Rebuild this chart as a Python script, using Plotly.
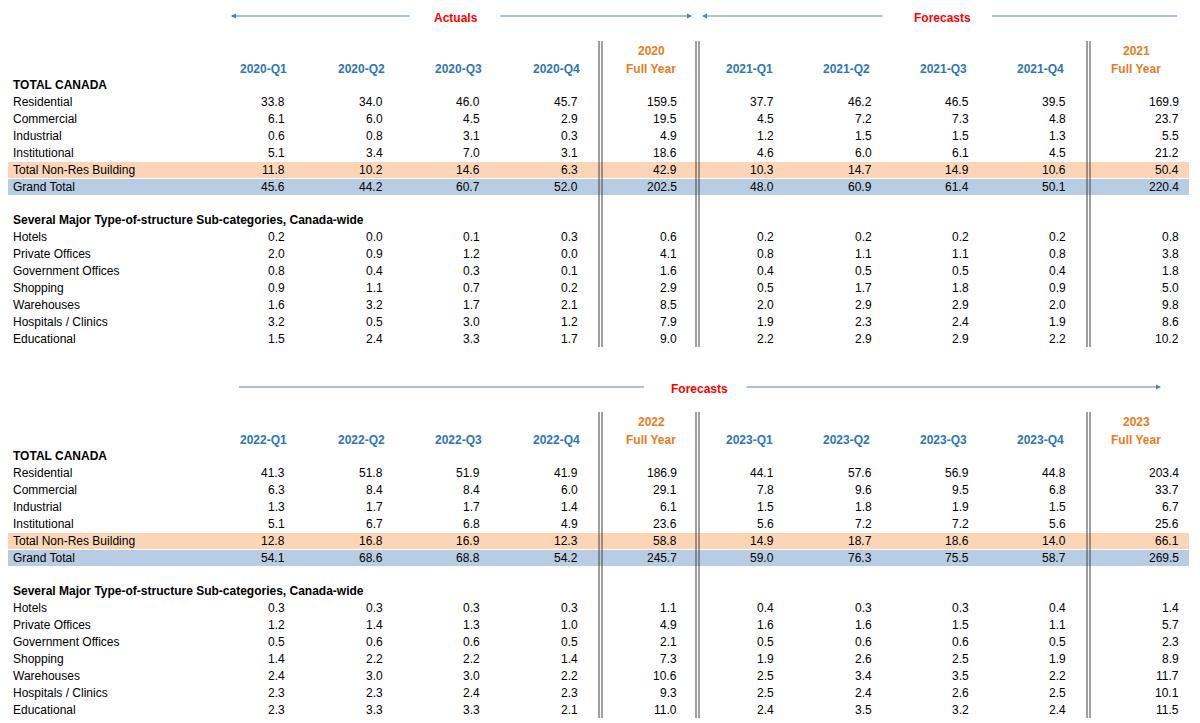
import plotly.graph_objects as go

# ---- data ----
rowLabels = ["Residential", "Commercial", "Industrial", "Institutional",
             "Total Non-Res Building", "Grand Total"]
subLabels = ["Hotels", "Private Offices", "Government Offices", "Shopping",
             "Warehouses", "Hospitals / Clinics", "Educational"]

top_headers = ["2020-Q1", "2020-Q2", "2020-Q3", "2020-Q4", "2020|Full Year",
               "2021-Q1", "2021-Q2", "2021-Q3", "2021-Q4", "2021|Full Year"]
bot_headers = ["2022-Q1", "2022-Q2", "2022-Q3", "2022-Q4", "2022|Full Year",
               "2023-Q1", "2023-Q2", "2023-Q3", "2023-Q4", "2023|Full Year"]

top_main = [
    [33.8, 34.0, 46.0, 45.7, 159.5, 37.7, 46.2, 46.5, 39.5, 169.9],
    [6.1, 6.0, 4.5, 2.9, 19.5, 4.5, 7.2, 7.3, 4.8, 23.7],
    [0.6, 0.8, 3.1, 0.3, 4.9, 1.2, 1.5, 1.5, 1.3, 5.5],
    [5.1, 3.4, 7.0, 3.1, 18.6, 4.6, 6.0, 6.1, 4.5, 21.2],
    [11.8, 10.2, 14.6, 6.3, 42.9, 10.3, 14.7, 14.9, 10.6, 50.4],
    [45.6, 44.2, 60.7, 52.0, 202.5, 48.0, 60.9, 61.4, 50.1, 220.4],
]
top_sub = [
    [0.2, 0.0, 0.1, 0.3, 0.6, 0.2, 0.2, 0.2, 0.2, 0.8],
    [2.0, 0.9, 1.2, 0.0, 4.1, 0.8, 1.1, 1.1, 0.8, 3.8],
    [0.8, 0.4, 0.3, 0.1, 1.6, 0.4, 0.5, 0.5, 0.4, 1.8],
    [0.9, 1.1, 0.7, 0.2, 2.9, 0.5, 1.7, 1.8, 0.9, 5.0],
    [1.6, 3.2, 1.7, 2.1, 8.5, 2.0, 2.9, 2.9, 2.0, 9.8],
    [3.2, 0.5, 3.0, 1.2, 7.9, 1.9, 2.3, 2.4, 1.9, 8.6],
    [1.5, 2.4, 3.3, 1.7, 9.0, 2.2, 2.9, 2.9, 2.2, 10.2],
]
bot_main = [
    [41.3, 51.8, 51.9, 41.9, 186.9, 44.1, 57.6, 56.9, 44.8, 203.4],
    [6.3, 8.4, 8.4, 6.0, 29.1, 7.8, 9.6, 9.5, 6.8, 33.7],
    [1.3, 1.7, 1.7, 1.4, 6.1, 1.5, 1.8, 1.9, 1.5, 6.7],
    [5.1, 6.7, 6.8, 4.9, 23.6, 5.6, 7.2, 7.2, 5.6, 25.6],
    [12.8, 16.8, 16.9, 12.3, 58.8, 14.9, 18.7, 18.6, 14.0, 66.1],
    [54.1, 68.6, 68.8, 54.2, 245.7, 59.0, 76.3, 75.5, 58.7, 269.5],
]
bot_sub = [
    [0.3, 0.3, 0.3, 0.3, 1.1, 0.4, 0.3, 0.3, 0.4, 1.4],
    [1.2, 1.4, 1.3, 1.0, 4.9, 1.6, 1.6, 1.5, 1.1, 5.7],
    [0.5, 0.6, 0.6, 0.5, 2.1, 0.5, 0.6, 0.6, 0.5, 2.3],
    [1.4, 2.2, 2.2, 1.4, 7.3, 1.9, 2.6, 2.5, 1.9, 8.9],
    [2.4, 3.0, 3.0, 2.2, 10.6, 2.5, 3.4, 3.5, 2.2, 11.7],
    [2.3, 2.3, 2.4, 2.3, 9.3, 2.5, 2.4, 2.6, 2.5, 10.1],
    [2.3, 3.3, 3.3, 2.1, 11.0, 2.4, 3.5, 3.2, 2.4, 11.5],
]

# ---- layout constants (pixel space) ----
FONT = "Liberation Sans"
BLUE = "#2E75B6"
ORANGE = "#E97B22"
RED = "#FF0000"
colRight = [288, 386, 483, 581, 680, 777, 875, 972, 1069, 1182]
colHead = [264, 362, 459, 557, 652, 750, 847, 944, 1041, 1137]
ROW_H = 17

annotations = []
shapes = []


def txt(x, y, s, anchor="left", color="black", bold=False, size=12):
    annotations.append(dict(x=x, y=y, text="<b>%s</b>" % s if bold else s,
                            xanchor=anchor, yanchor="middle", showarrow=False,
                            font=dict(family=FONT, size=size, color=color)))


def hline_arrow(x0, x1, y, head=True):
    if head:
        annotations.append(dict(x=x1, y=y, ax=x0, ay=y, xref="x", yref="y",
                                axref="x", ayref="y", text="", showarrow=True,
                                arrowhead=2, arrowsize=1, arrowwidth=1,
                                arrowcolor="#4F81BD"))
    else:
        shapes.append(dict(type="line", x0=x0, x1=x1, y0=y, y1=y,
                           line=dict(color="#4F81BD", width=1)))


def block(off, headers, main, sub):
    # bands
    shapes.append(dict(type="rect", x0=8, x1=1190, y0=off + 161, y1=off + 177,
                       fillcolor="#FBD5B5", line_width=0, layer="below"))
    shapes.append(dict(type="rect", x0=8, x1=1190, y0=off + 178, y1=off + 194,
                       fillcolor="#B8CCE4", line_width=0, layer="below"))
    # double lines
    for xl in (600, 697, 1088):
        for dx in (0, 3):
            shapes.append(dict(type="line", x0=xl + dx, x1=xl + dx,
                               y0=off + 40, y1=off + 346,
                               line=dict(color="#404040", width=1)))
    # headers
    for i, h in enumerate(headers):
        if "|" in h:
            yr, fy = h.split("|")
            txt(colHead[i], off + 50, yr, "center", ORANGE, True)
            txt(colHead[i], off + 68, fy, "center", ORANGE, True)
        else:
            txt(colHead[i], off + 68, h, "center", BLUE, True)
    txt(12, off + 84, "TOTAL CANADA", bold=True)
    for r, (lab, vals) in enumerate(zip(rowLabels, main)):
        y = off + 101 + r * ROW_H
        txt(12, y, lab)
        for i, v in enumerate(vals):
            txt(colRight[i], y, "%.1f" % v, "right")
    txt(12, off + 219, "Several Major Type-of-structure Sub-categories, Canada-wide", bold=True)
    for r, (lab, vals) in enumerate(zip(subLabels, sub)):
        y = off + 236 + r * ROW_H
        txt(12, y, lab)
        for i, v in enumerate(vals):
            txt(colRight[i], y, "%.1f" % v, "right")


block(0, top_headers, top_main, top_sub)
block(371, bot_headers, bot_main, bot_sub)

# section titles and arrows
txt(457, 17, "Actuals", "center", RED, True)
hline_arrow(412, 232, 15)
hline_arrow(500, 693, 15)
txt(943, 17, "Forecasts", "center", RED, True)
hline_arrow(885, 703, 15)
hline_arrow(993, 1178, 15, head=False)
txt(700, 388, "Forecasts", "center", RED, True)
hline_arrow(645, 240, 386, head=False)
hline_arrow(746, 1162, 386)

fig = go.Figure()
axis = dict(showline=False, zeroline=False, showgrid=False, ticks="",
            showticklabels=False, fixedrange=True)
fig.update_layout(width=1200, height=723, margin=dict(l=0, r=0, t=0, b=0),
                  paper_bgcolor="white", plot_bgcolor="white", showlegend=False,
                  xaxis=dict(axis, range=[9, 1209]),
                  yaxis=dict(axis, range=[730, 7]),
                  annotations=annotations, shapes=shapes)
fig.write_html("out.html")
